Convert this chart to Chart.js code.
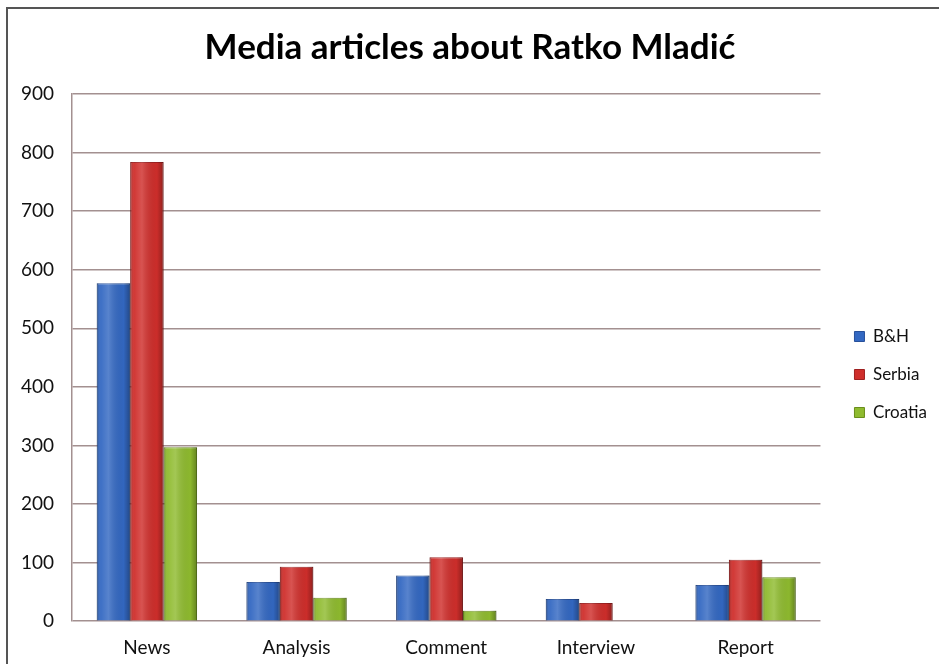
<!DOCTYPE html>
<html>
<head>
<meta charset="utf-8">
<script src="https://cdn.jsdelivr.net/npm/chart.js@4/dist/chart.umd.min.js"></script>
<style>
  html, body { margin: 0; padding: 0; background: #fff; }
  #frame {
    position: absolute; left: 6px; top: 7px; width: 933px; height: 657px;
    border-top: 2px solid #555; border-left: 2px solid #555;
  }
  #wrap { position: absolute; left: 0; top: 0; width: 939px; height: 664px; }
</style>
</head>
<body>
<div id="frame"></div>
<div id="wrap"><canvas id="chart"></canvas></div>
<script>
const categories = ['News', 'Analysis', 'Comment', 'Interview', 'Report']
const bih = [577, 67, 78, 38, 62]
const serbia = [784, 93, 109, 31, 105]
const croatia = [297, 40, 18, 0, 75]
const yTicks = [0, 100, 200, 300, 400, 500, 600, 700, 800, 900]

const FONT = 'Lato, "Open Sans", sans-serif'

// shading over each bar so it looks a bit like the excel 3d-ish bars
const barShade = {
  id: 'barShade',
  afterDatasetsDraw(chart) {
    const ctx = chart.ctx
    chart.data.datasets.forEach((ds, i) => {
      chart.getDatasetMeta(i).data.forEach(bar => {
        const left = bar.x - bar.width / 2
        const h = bar.base - bar.y
        if (h <= 0) return
        const g = ctx.createLinearGradient(left, 0, left + bar.width, 0)
        g.addColorStop(0, 'rgba(0,0,0,0.25)')
        g.addColorStop(0.12, 'rgba(255,255,255,0.05)')
        g.addColorStop(0.35, 'rgba(255,255,255,0.18)')
        g.addColorStop(0.8, 'rgba(0,0,0,0.02)')
        g.addColorStop(1, 'rgba(0,0,0,0.3)')
        ctx.save()
        ctx.fillStyle = g
        ctx.fillRect(left, bar.y, bar.width, h)
        ctx.restore()
      })
    })
  }
}

new Chart(document.getElementById('chart'), {
  type: 'bar',
  data: {
    labels: categories,
    datasets: [
      { label: 'B&H', data: bih, backgroundColor: '#3368c2', borderColor: '#27509a', borderWidth: 1 },
      { label: 'Serbia', data: serbia, backgroundColor: '#cf2e2b', borderColor: '#9e2020', borderWidth: 1 },
      { label: 'Croatia', data: croatia, backgroundColor: '#8fbb2f', borderColor: '#6a8e1c', borderWidth: 1 }
    ]
  },
  options: {
    responsive: true,
    maintainAspectRatio: false,
    animation: false,
    layout: { padding: { left: 3, right: 2, top: 27, bottom: -10 } },
    datasets: {
      bar: { categoryPercentage: 0.67, barPercentage: 1 }
    },
    scales: {
      x: {
        grid: { display: false, drawTicks: false },
        border: { display: false },
        ticks: { color: '#111', font: { family: FONT, size: 19 }, padding: 15 }
      },
      y: {
        min: 0,
        max: 900,
        afterBuildTicks: (axis) => { axis.ticks = yTicks.map(v => ({ value: v })) },
        grid: { color: '#a39090', lineWidth: 1.5, drawTicks: false },
        border: { display: true, color: '#a39090', width: 1.5 },
        ticks: { color: '#111', font: { family: FONT, size: 19 }, padding: 18 }
      },
      // empty axis, only keeps a gap between the plot and the legend
      gap: {
        axis: 'y',
        position: 'right',
        grid: { display: false, drawTicks: false },
        border: { display: false },
        ticks: { display: false },
        afterFit: (axis) => { axis.width = 13 }
      }
    },
    plugins: {
      title: {
        display: true,
        text: 'Media articles about Ratko Mladić',
        color: '#000',
        font: { family: FONT, size: 35, weight: 'bold' },
        padding: { top: 0, bottom: 25 }
      },
      legend: {
        position: 'right',
        title: { display: true, text: ' ', font: { size: 10 }, padding: { top: 18, bottom: 18 } },
        labels: {
          color: '#111',
          font: { family: FONT, size: 17 },
          boxWidth: 10,
          boxHeight: 10,
          padding: 21
        }
      },
      tooltip: { enabled: false }
    }
  },
  plugins: [barShade]
})
</script>
</body>
</html>
